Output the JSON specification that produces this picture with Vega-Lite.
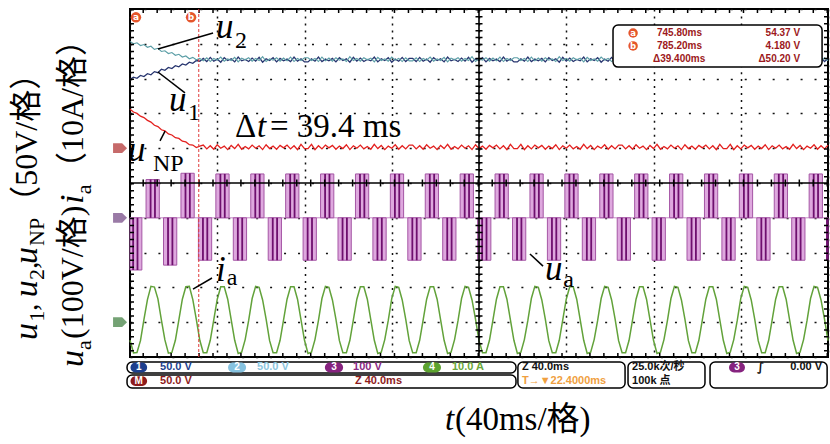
{
"$schema":"https://vega.github.io/schema/vega-lite/v6.json",
"width":698,"height":348,"autosize":"none",
"padding":{"left":130,"top":9,"right":2,"bottom":87},
"background":"white",
"config":{"view":{"stroke":"#000","strokeWidth":2},
 "axisX":{"grid":true,"tickCount":10,"gridDash":[2,4.96],"gridColor":"#111","gridWidth":1.5,"domain":false,"ticks":false,"labels":false,"titleOpacity":0},
 "axisY":{"grid":true,"tickCount":10,"gridDash":[2,11.96],"gridColor":"#111","gridWidth":1.5,"domain":false,"ticks":false,"labels":false,"titleOpacity":0}},
"datasets":{
"dc":[
{"t":0,"a":7.98,"b":9.07,"n":7.12,"i":0.48},{"t":2,"a":8.04,"b":9.0,"n":7.04,"i":0.12},{"t":4,"a":8.01,"b":9.03,"n":7.0,"i":0.13},{"t":6,"a":8.09,"b":8.95,"n":6.92,"i":0.47},{"t":8,"a":8.06,"b":8.98,"n":6.88,"i":1.08},{"t":10,"a":8.14,"b":8.9,"n":6.8,"i":1.65},{"t":12,"a":8.11,"b":8.93,"n":6.75,"i":2.03},{"t":14,"a":8.2,"b":8.84,"n":6.66,"i":2.01},{"t":16,"a":8.17,"b":8.87,"n":6.62,"i":1.67},{"t":18,"a":8.27,"b":8.78,"n":6.53,"i":1.06},{"t":20,"a":8.24,"b":8.8,"n":6.5,"i":0.49},{"t":22,"a":8.32,"b":8.72,"n":6.41,"i":0.11},{"t":24,"a":8.29,"b":8.75,"n":6.38,"i":0.13},{"t":26,"a":8.37,"b":8.67,"n":6.3,"i":0.48},{"t":28,"a":8.34,"b":8.7,"n":6.28,"i":1.07},{"t":30,"a":8.42,"b":8.62,"n":6.2,"i":1.66},{"t":32,"a":8.39,"b":8.65,"n":6.18,"i":2.02},{"t":34,"a":8.47,"b":8.57,"n":6.1,"i":2.03},{"t":36,"a":8.44,"b":8.61,"n":6.09,"i":1.65},{"t":38,"a":8.52,"b":8.54,"n":6.02,"i":1.08},{"t":40,"a":8.5,"b":8.58,"n":6.06,"i":0.48},
{"t":42,"a":8.58,"b":8.51,"n":6.09,"i":0.12},{"t":44,"a":8.49,"b":8.6,"n":5.98,"i":0.12},{"t":46,"a":8.61,"b":8.49,"n":6.07,"i":0.48},{"t":48,"a":8.5,"b":8.58,"n":5.97,"i":1.07},{"t":50,"a":8.56,"b":8.53,"n":6.1,"i":1.66},{"t":52,"a":8.47,"b":8.62,"n":6.0,"i":2.02},{"t":54,"a":8.6,"b":8.5,"n":6.06,"i":2.02},{"t":56,"a":8.52,"b":8.57,"n":5.96,"i":1.66},{"t":58,"a":8.57,"b":8.52,"n":6.08,"i":1.07},{"t":60,"a":8.48,"b":8.61,"n":5.99,"i":0.48},
{"t":62,"a":8.62,"b":8.48,"n":6.11,"i":0.1},{"t":64,"a":8.51,"b":8.59,"n":5.97,"i":0.14},{"t":66,"a":8.55,"b":8.54,"n":6.05,"i":0.5},{"t":68,"a":8.49,"b":8.6,"n":5.98,"i":1.05},{"t":70,"a":8.59,"b":8.5,"n":6.09,"i":1.68},{"t":72,"a":8.5,"b":8.58,"n":6.0,"i":2.03},{"t":74,"a":8.61,"b":8.52,"n":6.07,"i":2.0},{"t":76,"a":8.47,"b":8.63,"n":5.96,"i":1.64},{"t":78,"a":8.57,"b":8.49,"n":6.1,"i":1.09},{"t":80,"a":8.52,"b":8.57,"n":5.99,"i":0.47},
{"t":82,"a":8.6,"b":8.53,"n":6.06,"i":0.12},{"t":84,"a":8.48,"b":8.6,"n":5.97,"i":0.12},{"t":86,"a":8.58,"b":8.5,"n":6.08,"i":0.48},{"t":88,"a":8.51,"b":8.59,"n":6.01,"i":1.07},{"t":90,"a":8.56,"b":8.51,"n":6.09,"i":1.66},{"t":92,"a":8.49,"b":8.62,"n":5.98,"i":2.02},{"t":94,"a":8.62,"b":8.49,"n":6.07,"i":2.02},{"t":96,"a":8.5,"b":8.58,"n":5.96,"i":1.66},{"t":98,"a":8.57,"b":8.52,"n":6.11,"i":1.07},{"t":100,"a":8.48,"b":8.6,"n":5.99,"i":0.48},
{"t":102,"a":8.48,"b":8.6,"n":5.99,"i":0.1},{"t":104,"a":8.57,"b":8.52,"n":6.11,"i":0.14},{"t":106,"a":8.5,"b":8.58,"n":5.96,"i":0.5},{"t":108,"a":8.62,"b":8.49,"n":6.07,"i":1.05},{"t":110,"a":8.49,"b":8.62,"n":5.98,"i":1.68},{"t":112,"a":8.56,"b":8.51,"n":6.09,"i":2.03},{"t":114,"a":8.51,"b":8.59,"n":6.01,"i":2.0},{"t":116,"a":8.58,"b":8.5,"n":6.08,"i":1.64},{"t":118,"a":8.48,"b":8.6,"n":5.97,"i":1.09},{"t":120,"a":8.6,"b":8.53,"n":6.06,"i":0.47},
{"t":122,"a":8.52,"b":8.57,"n":5.99,"i":0.12},{"t":124,"a":8.57,"b":8.49,"n":6.1,"i":0.12},{"t":126,"a":8.47,"b":8.63,"n":5.96,"i":0.48},{"t":128,"a":8.61,"b":8.52,"n":6.07,"i":1.07},{"t":130,"a":8.5,"b":8.58,"n":6.0,"i":1.66},{"t":132,"a":8.59,"b":8.5,"n":6.09,"i":2.02},{"t":134,"a":8.49,"b":8.6,"n":5.98,"i":2.02},{"t":136,"a":8.55,"b":8.54,"n":6.05,"i":1.66},{"t":138,"a":8.51,"b":8.59,"n":5.97,"i":1.07},{"t":140,"a":8.62,"b":8.48,"n":6.11,"i":0.48},
{"t":142,"a":8.48,"b":8.61,"n":5.99,"i":0.1},{"t":144,"a":8.57,"b":8.52,"n":6.08,"i":0.14},{"t":146,"a":8.52,"b":8.57,"n":5.96,"i":0.5},{"t":148,"a":8.6,"b":8.5,"n":6.06,"i":1.05},{"t":150,"a":8.47,"b":8.62,"n":6.0,"i":1.68},{"t":152,"a":8.56,"b":8.53,"n":6.1,"i":2.03},{"t":154,"a":8.5,"b":8.58,"n":5.97,"i":2.0},{"t":156,"a":8.61,"b":8.49,"n":6.07,"i":1.64},{"t":158,"a":8.49,"b":8.6,"n":5.98,"i":1.09},{"t":160,"a":8.58,"b":8.51,"n":6.09,"i":0.47},
{"t":162,"a":8.58,"b":8.51,"n":6.09,"i":0.12},{"t":164,"a":8.49,"b":8.6,"n":5.98,"i":0.12},{"t":166,"a":8.61,"b":8.49,"n":6.07,"i":0.48},{"t":168,"a":8.5,"b":8.58,"n":5.97,"i":1.07},{"t":170,"a":8.56,"b":8.53,"n":6.1,"i":1.66},{"t":172,"a":8.47,"b":8.62,"n":6.0,"i":2.02},{"t":174,"a":8.6,"b":8.5,"n":6.06,"i":2.02},{"t":176,"a":8.52,"b":8.57,"n":5.96,"i":1.66},{"t":178,"a":8.57,"b":8.52,"n":6.08,"i":1.07},{"t":180,"a":8.48,"b":8.61,"n":5.99,"i":0.48},
{"t":182,"a":8.62,"b":8.48,"n":6.11,"i":0.1},{"t":184,"a":8.51,"b":8.59,"n":5.97,"i":0.14},{"t":186,"a":8.55,"b":8.54,"n":6.05,"i":0.5},{"t":188,"a":8.49,"b":8.6,"n":5.98,"i":1.05},{"t":190,"a":8.59,"b":8.5,"n":6.09,"i":1.68},{"t":192,"a":8.5,"b":8.58,"n":6.0,"i":2.03},{"t":194,"a":8.61,"b":8.52,"n":6.07,"i":2.0},{"t":196,"a":8.47,"b":8.63,"n":5.96,"i":1.64},{"t":198,"a":8.57,"b":8.49,"n":6.1,"i":1.09},{"t":200,"a":8.52,"b":8.57,"n":5.99,"i":0.47},
{"t":202,"a":8.6,"b":8.53,"n":6.06,"i":0.12},{"t":204,"a":8.48,"b":8.6,"n":5.97,"i":0.12},{"t":206,"a":8.58,"b":8.5,"n":6.08,"i":0.48},{"t":208,"a":8.51,"b":8.59,"n":6.01,"i":1.07},{"t":210,"a":8.56,"b":8.51,"n":6.09,"i":1.66},{"t":212,"a":8.49,"b":8.62,"n":5.98,"i":2.02},{"t":214,"a":8.62,"b":8.49,"n":6.07,"i":2.02},{"t":216,"a":8.5,"b":8.58,"n":5.96,"i":1.66},{"t":218,"a":8.57,"b":8.52,"n":6.11,"i":1.07},{"t":220,"a":8.48,"b":8.6,"n":5.99,"i":0.48},
{"t":222,"a":8.48,"b":8.6,"n":5.99,"i":0.1},{"t":224,"a":8.57,"b":8.52,"n":6.11,"i":0.14},{"t":226,"a":8.5,"b":8.58,"n":5.96,"i":0.5},{"t":228,"a":8.62,"b":8.49,"n":6.07,"i":1.05},{"t":230,"a":8.49,"b":8.62,"n":5.98,"i":1.68},{"t":232,"a":8.56,"b":8.51,"n":6.09,"i":2.03},{"t":234,"a":8.51,"b":8.59,"n":6.01,"i":2.0},{"t":236,"a":8.58,"b":8.5,"n":6.08,"i":1.64},{"t":238,"a":8.48,"b":8.6,"n":5.97,"i":1.09},{"t":240,"a":8.6,"b":8.53,"n":6.06,"i":0.47},
{"t":242,"a":8.52,"b":8.57,"n":5.99,"i":0.12},{"t":244,"a":8.57,"b":8.49,"n":6.1,"i":0.12},{"t":246,"a":8.47,"b":8.63,"n":5.96,"i":0.48},{"t":248,"a":8.61,"b":8.52,"n":6.07,"i":1.07},{"t":250,"a":8.5,"b":8.58,"n":6.0,"i":1.66},{"t":252,"a":8.59,"b":8.5,"n":6.09,"i":2.02},{"t":254,"a":8.49,"b":8.6,"n":5.98,"i":2.02},{"t":256,"a":8.55,"b":8.54,"n":6.05,"i":1.66},{"t":258,"a":8.51,"b":8.59,"n":5.97,"i":1.07},{"t":260,"a":8.62,"b":8.48,"n":6.11,"i":0.48},
{"t":262,"a":8.48,"b":8.61,"n":5.99,"i":0.1},{"t":264,"a":8.57,"b":8.52,"n":6.08,"i":0.14},{"t":266,"a":8.52,"b":8.57,"n":5.96,"i":0.5},{"t":268,"a":8.6,"b":8.5,"n":6.06,"i":1.05},{"t":270,"a":8.47,"b":8.62,"n":6.0,"i":1.68},{"t":272,"a":8.56,"b":8.53,"n":6.1,"i":2.03},{"t":274,"a":8.5,"b":8.58,"n":5.97,"i":2.0},{"t":276,"a":8.61,"b":8.49,"n":6.07,"i":1.64},{"t":278,"a":8.49,"b":8.6,"n":5.98,"i":1.09},{"t":280,"a":8.58,"b":8.51,"n":6.09,"i":0.47},
{"t":282,"a":8.58,"b":8.51,"n":6.09,"i":0.12},{"t":284,"a":8.49,"b":8.6,"n":5.98,"i":0.12},{"t":286,"a":8.61,"b":8.49,"n":6.07,"i":0.48},{"t":288,"a":8.5,"b":8.58,"n":5.97,"i":1.07},{"t":290,"a":8.56,"b":8.53,"n":6.1,"i":1.66},{"t":292,"a":8.47,"b":8.62,"n":6.0,"i":2.02},{"t":294,"a":8.6,"b":8.5,"n":6.06,"i":2.02},{"t":296,"a":8.52,"b":8.57,"n":5.96,"i":1.66},{"t":298,"a":8.57,"b":8.52,"n":6.08,"i":1.07},{"t":300,"a":8.48,"b":8.61,"n":5.99,"i":0.48},
{"t":302,"a":8.62,"b":8.48,"n":6.11,"i":0.1},{"t":304,"a":8.51,"b":8.59,"n":5.97,"i":0.14},{"t":306,"a":8.55,"b":8.54,"n":6.05,"i":0.5},{"t":308,"a":8.49,"b":8.6,"n":5.98,"i":1.05},{"t":310,"a":8.59,"b":8.5,"n":6.09,"i":1.68},{"t":312,"a":8.5,"b":8.58,"n":6.0,"i":2.03},{"t":314,"a":8.61,"b":8.52,"n":6.07,"i":2.0},{"t":316,"a":8.47,"b":8.63,"n":5.96,"i":1.64},{"t":318,"a":8.57,"b":8.49,"n":6.1,"i":1.09},{"t":320,"a":8.52,"b":8.57,"n":5.99,"i":0.47},
{"t":322,"a":8.6,"b":8.53,"n":6.06,"i":0.12},{"t":324,"a":8.48,"b":8.6,"n":5.97,"i":0.12},{"t":326,"a":8.58,"b":8.5,"n":6.08,"i":0.48},{"t":328,"a":8.51,"b":8.59,"n":6.01,"i":1.07},{"t":330,"a":8.56,"b":8.51,"n":6.09,"i":1.66},{"t":332,"a":8.49,"b":8.62,"n":5.98,"i":2.02},{"t":334,"a":8.62,"b":8.49,"n":6.07,"i":2.02},{"t":336,"a":8.5,"b":8.58,"n":5.96,"i":1.66},{"t":338,"a":8.57,"b":8.52,"n":6.11,"i":1.07},{"t":340,"a":8.48,"b":8.6,"n":5.99,"i":0.48},
{"t":342,"a":8.48,"b":8.6,"n":5.99,"i":0.1},{"t":344,"a":8.57,"b":8.52,"n":6.11,"i":0.14},{"t":346,"a":8.5,"b":8.58,"n":5.96,"i":0.5},{"t":348,"a":8.62,"b":8.49,"n":6.07,"i":1.05},{"t":350,"a":8.49,"b":8.62,"n":5.98,"i":1.68},{"t":352,"a":8.56,"b":8.51,"n":6.09,"i":2.03},{"t":354,"a":8.51,"b":8.59,"n":6.01,"i":2.0},{"t":356,"a":8.58,"b":8.5,"n":6.08,"i":1.64},{"t":358,"a":8.48,"b":8.6,"n":5.97,"i":1.09},{"t":360,"a":8.6,"b":8.53,"n":6.06,"i":0.47},
{"t":362,"a":8.52,"b":8.57,"n":5.99,"i":0.12},{"t":364,"a":8.57,"b":8.49,"n":6.1,"i":0.12},{"t":366,"a":8.47,"b":8.63,"n":5.96,"i":0.48},{"t":368,"a":8.61,"b":8.52,"n":6.07,"i":1.07},{"t":370,"a":8.5,"b":8.58,"n":6.0,"i":1.66},{"t":372,"a":8.59,"b":8.5,"n":6.09,"i":2.02},{"t":374,"a":8.49,"b":8.6,"n":5.98,"i":2.02},{"t":376,"a":8.55,"b":8.54,"n":6.05,"i":1.66},{"t":378,"a":8.51,"b":8.59,"n":5.97,"i":1.07},{"t":380,"a":8.62,"b":8.48,"n":6.11,"i":0.48},
{"t":382,"a":8.48,"b":8.61,"n":5.99,"i":0.1},{"t":384,"a":8.57,"b":8.52,"n":6.08,"i":0.14},{"t":386,"a":8.52,"b":8.57,"n":5.96,"i":0.5},{"t":388,"a":8.6,"b":8.5,"n":6.06,"i":1.05},{"t":390,"a":8.47,"b":8.62,"n":6.0,"i":1.68},{"t":392,"a":8.56,"b":8.53,"n":6.1,"i":2.03},{"t":394,"a":8.5,"b":8.58,"n":5.97,"i":2.0},{"t":396,"a":8.61,"b":8.49,"n":6.07,"i":1.64},{"t":398,"a":8.49,"b":8.6,"n":5.98,"i":1.09},{"t":400,"a":8.58,"b":8.51,"n":6.09,"i":0.47}
],
"pw":[
{"t0":0,"t1":6.8,"v":2.5,"d1":1.8,"d2":4.3},{"t0":9.2,"t1":16.8,"v":5.1,"d1":11.8,"d2":14.3},
{"t0":19.2,"t1":26.8,"v":2.64,"d1":21.8,"d2":24.3},{"t0":29.2,"t1":36.8,"v":5.28,"d1":31.8,"d2":34.3},
{"t0":39.2,"t1":46.8,"v":2.78,"d1":41.8,"d2":44.3},{"t0":49.2,"t1":56.8,"v":5.26,"d1":51.8,"d2":54.3},
{"t0":59.2,"t1":66.8,"v":2.78,"d1":61.8,"d2":64.3},{"t0":69.2,"t1":76.8,"v":5.26,"d1":71.8,"d2":74.3},
{"t0":79.2,"t1":86.8,"v":2.78,"d1":81.8,"d2":84.3},{"t0":89.2,"t1":96.8,"v":5.26,"d1":91.8,"d2":94.3},
{"t0":99.2,"t1":106.8,"v":2.78,"d1":101.8,"d2":104.3},{"t0":109.2,"t1":116.8,"v":5.26,"d1":111.8,"d2":114.3},
{"t0":119.2,"t1":126.8,"v":2.78,"d1":121.8,"d2":124.3},{"t0":129.2,"t1":136.8,"v":5.26,"d1":131.8,"d2":134.3},
{"t0":139.2,"t1":146.8,"v":2.78,"d1":141.8,"d2":144.3},{"t0":149.2,"t1":156.8,"v":5.26,"d1":151.8,"d2":154.3},
{"t0":159.2,"t1":166.8,"v":2.78,"d1":161.8,"d2":164.3},{"t0":169.2,"t1":176.8,"v":5.26,"d1":171.8,"d2":174.3},
{"t0":179.2,"t1":186.8,"v":2.78,"d1":181.8,"d2":184.3},{"t0":189.2,"t1":196.8,"v":5.26,"d1":191.8,"d2":194.3},
{"t0":199.2,"t1":206.8,"v":2.78,"d1":201.8,"d2":204.3},{"t0":209.2,"t1":216.8,"v":5.26,"d1":211.8,"d2":214.3},
{"t0":219.2,"t1":226.8,"v":2.78,"d1":221.8,"d2":224.3},{"t0":229.2,"t1":236.8,"v":5.26,"d1":231.8,"d2":234.3},
{"t0":239.2,"t1":246.8,"v":2.78,"d1":241.8,"d2":244.3},{"t0":249.2,"t1":256.8,"v":5.26,"d1":251.8,"d2":254.3},
{"t0":259.2,"t1":266.8,"v":2.78,"d1":261.8,"d2":264.3},{"t0":269.2,"t1":276.8,"v":5.26,"d1":271.8,"d2":274.3},
{"t0":279.2,"t1":286.8,"v":2.78,"d1":281.8,"d2":284.3},{"t0":289.2,"t1":296.8,"v":5.26,"d1":291.8,"d2":294.3},
{"t0":299.2,"t1":306.8,"v":2.78,"d1":301.8,"d2":304.3},{"t0":309.2,"t1":316.8,"v":5.26,"d1":311.8,"d2":314.3},
{"t0":319.2,"t1":326.8,"v":2.78,"d1":321.8,"d2":324.3},{"t0":329.2,"t1":336.8,"v":5.26,"d1":331.8,"d2":334.3},
{"t0":339.2,"t1":346.8,"v":2.78,"d1":341.8,"d2":344.3},{"t0":349.2,"t1":356.8,"v":5.26,"d1":351.8,"d2":354.3},
{"t0":359.2,"t1":366.8,"v":2.78,"d1":361.8,"d2":364.3},{"t0":369.2,"t1":376.8,"v":5.26,"d1":371.8,"d2":374.3},
{"t0":379.2,"t1":386.8,"v":2.78,"d1":381.8,"d2":384.3},{"t0":389.2,"t1":396.8,"v":5.26,"d1":391.8,"d2":394.3},
{"t0":399.2,"t1":400,"v":2.78,"d1":399.6,"d2":399.6}
]},
"data":{"values":[{}]},
"layer":[
{"data":{"name":"dc"},"mark":{"type":"line","color":"#27356f","strokeWidth":1.3},"encoding":{"x":{"field":"t","type":"quantitative","scale":{"domain":[0,400],"nice":false,"zero":false},"axis":{"title":null}},"y":{"field":"a","type":"quantitative","scale":{"domain":[0,10],"nice":false,"zero":false},"axis":{"title":null}}}},
{"data":{"name":"dc"},"mark":{"type":"line","color":"#5b9ea6","strokeWidth":1.1},"encoding":{"x":{"field":"t","type":"quantitative","axis":{"title":null}},"y":{"field":"b","type":"quantitative","axis":{"title":null}}}},
{"data":{"name":"dc"},"mark":{"type":"line","color":"#e3201e","strokeWidth":1.3},"encoding":{"x":{"field":"t","type":"quantitative","axis":{"title":null}},"y":{"field":"n","type":"quantitative","axis":{"title":null}}}},
{"data":{"name":"dc"},"mark":{"type":"line","color":"#62a23a","strokeWidth":1.5},"encoding":{"x":{"field":"t","type":"quantitative","axis":{"title":null}},"y":{"field":"i","type":"quantitative","axis":{"title":null}}}},
{"mark":{"type":"rule","color":"#c58ac5","strokeWidth":1},"encoding":{"y":{"datum":4}}},
{"data":{"name":"pw"},"mark":{"type":"rect","fill":"#dea8de","stroke":"#a556a5","strokeWidth":1},"encoding":{"x":{"field":"t0","type":"quantitative","axis":{"title":null}},"x2":{"field":"t1"},"y":{"field":"v","type":"quantitative","axis":{"title":null}},"y2":{"datum":4}}},
{"data":{"name":"pw"},"mark":{"type":"rule","color":"#6e0f6e","strokeWidth":1.8},"encoding":{"x":{"field":"d1","type":"quantitative","axis":{"title":null}},"y":{"field":"v","type":"quantitative","axis":{"title":null}},"y2":{"datum":4}}},
{"data":{"name":"pw"},"mark":{"type":"rule","color":"#6e0f6e","strokeWidth":1.8},"encoding":{"x":{"field":"d2","type":"quantitative","axis":{"title":null}},"y":{"field":"v","type":"quantitative","axis":{"title":null}},"y2":{"datum":4}}},
{"mark":{"type":"rule","color":"#000","strokeWidth":1.6},"encoding":{"y":{"datum":5}}},
{"mark":{"type":"rule","color":"#000","strokeWidth":7,"strokeDash":[1.5,12.46]},"encoding":{"y":{"datum":5}}},
{"mark":{"type":"rule","color":"#000","strokeWidth":1.6},"encoding":{"x":{"datum":200}}},
{"mark":{"type":"rule","color":"#000","strokeWidth":7,"strokeDash":[1.5,5.46]},"encoding":{"x":{"datum":200}}},
{"mark":{"type":"rule","color":"#000","strokeWidth":8,"strokeDash":[1.5,12.46],"clip":true},"encoding":{"y":{"datum":0}}},
{"mark":{"type":"rule","color":"#000","strokeWidth":8,"strokeDash":[1.5,12.46],"clip":true},"encoding":{"y":{"datum":10}}},
{"mark":{"type":"rule","color":"#000","strokeWidth":8,"strokeDash":[1.5,5.46],"clip":true},"encoding":{"x":{"datum":0}}},
{"mark":{"type":"rule","color":"#000","strokeWidth":8,"strokeDash":[1.5,5.46],"clip":true},"encoding":{"x":{"datum":400}}},
{"mark":{"type":"rule","color":"#e03a3a","strokeWidth":1,"strokeDash":[3,2]},"encoding":{"x":{"datum":39.4}}},
{"mark":{"type":"point","shape":"circle","filled":true,"color":"#e5552b","size":110,"opacity":1},"encoding":{"x":{"datum":3.4},"y":{"datum":9.76}}},
{"mark":{"type":"point","shape":"circle","filled":true,"color":"#e5552b","size":110,"opacity":1},"encoding":{"x":{"datum":35},"y":{"datum":9.76}}},
{"mark":{"type":"text","text":"a","font":"DejaVu Sans","fontSize":9,"fontWeight":"bold","color":"#fff","align":"center","baseline":"middle"},"encoding":{"x":{"datum":3.4},"y":{"datum":9.77}}},
{"mark":{"type":"text","text":"b","font":"DejaVu Sans","fontSize":9,"fontWeight":"bold","color":"#fff","align":"center","baseline":"middle"},"encoding":{"x":{"datum":35},"y":{"datum":9.77}}},
{"mark":{"type":"rect","fill":"#fff","stroke":"#000","strokeWidth":1.5,"cornerRadius":5},"encoding":{"x":{"datum":276.8},"x2":{"datum":396.6},"y":{"datum":9.54},"y2":{"datum":8.33}}},
{"mark":{"type":"point","shape":"circle","filled":true,"color":"#e5552b","size":90,"opacity":1},"encoding":{"x":{"datum":288.3},"y":{"datum":9.31}}},
{"mark":{"type":"point","shape":"circle","filled":true,"color":"#e5552b","size":90,"opacity":1},"encoding":{"x":{"datum":288.3},"y":{"datum":8.94}}},
{"mark":{"type":"text","text":"a","font":"DejaVu Sans","fontSize":8.5,"fontWeight":"bold","color":"#fff","align":"center","baseline":"middle"},"encoding":{"x":{"datum":288.3},"y":{"datum":9.32}}},
{"mark":{"type":"text","text":"b","font":"DejaVu Sans","fontSize":8.5,"fontWeight":"bold","color":"#fff","align":"center","baseline":"middle"},"encoding":{"x":{"datum":288.3},"y":{"datum":8.95}}},
{"mark":{"type":"text","text":"745.80ms","font":"Liberation Sans","fontSize":10,"fontWeight":"bold","color":"#9c1820","align":"left","baseline":"middle"},"encoding":{"x":{"datum":302},"y":{"datum":9.31}}},
{"mark":{"type":"text","text":"54.37 V","font":"Liberation Sans","fontSize":10,"fontWeight":"bold","color":"#9c1820","align":"right","baseline":"middle"},"encoding":{"x":{"datum":384},"y":{"datum":9.31}}},
{"mark":{"type":"text","text":"785.20ms","font":"Liberation Sans","fontSize":10,"fontWeight":"bold","color":"#9c1820","align":"left","baseline":"middle"},"encoding":{"x":{"datum":302},"y":{"datum":8.94}}},
{"mark":{"type":"text","text":"4.180 V","font":"Liberation Sans","fontSize":10,"fontWeight":"bold","color":"#9c1820","align":"right","baseline":"middle"},"encoding":{"x":{"datum":384},"y":{"datum":8.94}}},
{"mark":{"type":"text","text":"Δ39.400ms","font":"Liberation Sans","fontSize":10,"fontWeight":"bold","color":"#9c1820","align":"left","baseline":"middle"},"encoding":{"x":{"datum":299.7},"y":{"datum":8.56}}},
{"mark":{"type":"text","text":"Δ50.20 V","font":"Liberation Sans","fontSize":10,"fontWeight":"bold","color":"#9c1820","align":"right","baseline":"middle"},"encoding":{"x":{"datum":384},"y":{"datum":8.56}}},
{"mark":{"type":"rule","color":"#000","strokeWidth":1.5},"encoding":{"x":{"datum":47.6},"y":{"datum":9.31},"x2":{"datum":16},"y2":{"datum":8.85}}},
{"mark":{"type":"rule","color":"#000","strokeWidth":1.5},"encoding":{"x":{"datum":31.5},"y":{"datum":7.59},"x2":{"datum":16},"y2":{"datum":8.19}}},
{"mark":{"type":"rule","color":"#000","strokeWidth":1.5},"encoding":{"x":{"datum":20.1},"y":{"datum":6.49},"x2":{"datum":17.2},"y2":{"datum":6.21}}},
{"mark":{"type":"rule","color":"#000","strokeWidth":1.5},"encoding":{"x":{"datum":47},"y":{"datum":2.27},"x2":{"datum":36.1},"y2":{"datum":1.95}}},
{"mark":{"type":"rule","color":"#000","strokeWidth":1.5},"encoding":{"x":{"datum":229.2},"y":{"datum":2.96},"x2":{"datum":236.7},"y2":{"datum":2.61}}},
{"mark":{"type":"text","text":"u","font":"Liberation Serif","fontStyle":"italic","fontSize":35,"color":"#000","align":"left","baseline":"alphabetic"},"encoding":{"x":{"datum":49.3},"y":{"datum":9.17}}},
{"mark":{"type":"text","text":"2","font":"Liberation Serif","fontSize":24,"color":"#000","align":"left","baseline":"alphabetic"},"encoding":{"x":{"datum":60.2},"y":{"datum":8.88}}},
{"mark":{"type":"text","text":"u","font":"Liberation Serif","fontStyle":"italic","fontSize":35,"color":"#000","align":"left","baseline":"alphabetic"},"encoding":{"x":{"datum":22.3},"y":{"datum":7.07}}},
{"mark":{"type":"text","text":"1","font":"Liberation Serif","fontSize":24,"color":"#000","align":"left","baseline":"alphabetic"},"encoding":{"x":{"datum":33.2},"y":{"datum":6.81}}},
{"mark":{"type":"text","text":"Δ","font":"Liberation Serif","fontSize":33,"color":"#000","align":"left","baseline":"alphabetic"},"encoding":{"x":{"datum":60.2},"y":{"datum":6.32}}},
{"mark":{"type":"text","text":"t","font":"Liberation Serif","fontStyle":"italic","fontSize":33,"color":"#000","align":"left","baseline":"alphabetic"},"encoding":{"x":{"datum":72.8},"y":{"datum":6.32}}},
{"mark":{"type":"text","text":"= 39.4 ms","font":"Liberation Serif","fontSize":33,"color":"#000","align":"left","baseline":"alphabetic"},"encoding":{"x":{"datum":80.2},"y":{"datum":6.32}}},
{"mark":{"type":"text","text":"u","font":"Liberation Serif","fontStyle":"italic","fontSize":35,"color":"#000","align":"left","baseline":"alphabetic"},"encoding":{"x":{"datum":-1.1},"y":{"datum":5.63}}},
{"mark":{"type":"text","text":"NP","font":"Liberation Serif","fontSize":24,"color":"#000","align":"left","baseline":"alphabetic"},"encoding":{"x":{"datum":13.2},"y":{"datum":5.34}}},
{"mark":{"type":"text","text":"i","font":"Liberation Serif","fontStyle":"italic","fontSize":35,"color":"#000","align":"left","baseline":"alphabetic"},"encoding":{"x":{"datum":49.3},"y":{"datum":2.18}}},
{"mark":{"type":"text","text":"a","font":"Liberation Serif","fontSize":24,"color":"#000","align":"left","baseline":"alphabetic"},"encoding":{"x":{"datum":55.5},"y":{"datum":2.08}}},
{"mark":{"type":"text","text":"u","font":"Liberation Serif","fontStyle":"italic","fontSize":35,"color":"#000","align":"left","baseline":"alphabetic"},"encoding":{"x":{"datum":237.8},"y":{"datum":2.21}}},
{"mark":{"type":"text","text":"a","font":"Liberation Serif","fontSize":24,"color":"#000","align":"left","baseline":"alphabetic"},"encoding":{"x":{"datum":248.3},"y":{"datum":2.01}}},
{"mark":{"type":"point","shape":"M-1,-0.7L0.3,-0.7L1,0L0.3,0.7L-1,0.7Z","filled":true,"color":"#c66a6a","size":196,"opacity":1},"encoding":{"x":{"datum":-5.7},"y":{"datum":6}}},
{"mark":{"type":"point","shape":"M-1,-0.7L0.3,-0.7L1,0L0.3,0.7L-1,0.7Z","filled":true,"color":"#9a7aa6","size":196,"opacity":1},"encoding":{"x":{"datum":-5.7},"y":{"datum":4}}},
{"mark":{"type":"point","shape":"M-1,-0.7L0.3,-0.7L1,0L0.3,0.7L-1,0.7Z","filled":true,"color":"#74a274","size":196,"opacity":1},"encoding":{"x":{"datum":-5.7},"y":{"datum":1}}},
{"mark":{"type":"rect","fill":"#fff","stroke":"#000","strokeWidth":1.5,"cornerRadius":5},"encoding":{"x":{"datum":-1.7},"x2":{"datum":221.2},"y":{"datum":-0.144},"y2":{"datum":-0.46}}},
{"mark":{"type":"rect","fill":"#fff","stroke":"#000","strokeWidth":1.5,"cornerRadius":5},"encoding":{"x":{"datum":-1.7},"x2":{"datum":221.2},"y":{"datum":-0.517},"y2":{"datum":-0.89}}},
{"mark":{"type":"rect","fill":"#fff","stroke":"#000","strokeWidth":1.5,"cornerRadius":5},"encoding":{"x":{"datum":222.3},"x2":{"datum":283.7},"y":{"datum":-0.144},"y2":{"datum":-0.89}}},
{"mark":{"type":"rect","fill":"#fff","stroke":"#000","strokeWidth":1.5,"cornerRadius":5},"encoding":{"x":{"datum":285.4},"x2":{"datum":329.5},"y":{"datum":-0.144},"y2":{"datum":-0.89}}},
{"mark":{"type":"rect","fill":"#fff","stroke":"#000","strokeWidth":1.5,"cornerRadius":5},"encoding":{"x":{"datum":332.4},"x2":{"datum":399.5},"y":{"datum":-0.144},"y2":{"datum":-0.89}}},
{"mark":{"type":"rect","color":"#1d3f8e","cornerRadius":5},"encoding":{"x":{"datum":0.3},"x2":{"datum":9.8},"y":{"datum":-0.16},"y2":{"datum":-0.445}}},
{"mark":{"type":"rect","color":"#86c2df","cornerRadius":5},"encoding":{"x":{"datum":56.2},"x2":{"datum":66.5},"y":{"datum":-0.16},"y2":{"datum":-0.445}}},
{"mark":{"type":"rect","color":"#86237f","cornerRadius":5},"encoding":{"x":{"datum":111.7},"x2":{"datum":122.1},"y":{"datum":-0.16},"y2":{"datum":-0.445}}},
{"mark":{"type":"rect","color":"#5da32f","cornerRadius":5},"encoding":{"x":{"datum":167.9},"x2":{"datum":178.2},"y":{"datum":-0.16},"y2":{"datum":-0.445}}},
{"mark":{"type":"rect","color":"#8e1b1b","cornerRadius":5},"encoding":{"x":{"datum":0.3},"x2":{"datum":9.8},"y":{"datum":-0.55},"y2":{"datum":-0.83}}},
{"mark":{"type":"rect","color":"#86237f","cornerRadius":5},"encoding":{"x":{"datum":343.3},"x2":{"datum":352.4},"y":{"datum":-0.16},"y2":{"datum":-0.445}}},
{"mark":{"type":"text","text":"1","font":"Liberation Sans","fontSize":10,"fontWeight":"bold","color":"#fff","align":"center","baseline":"middle"},"encoding":{"x":{"datum":5},"y":{"datum":-0.3}}},
{"mark":{"type":"text","text":"2","font":"Liberation Sans","fontSize":10,"fontWeight":"bold","color":"#fff","align":"center","baseline":"middle"},"encoding":{"x":{"datum":61.3},"y":{"datum":-0.3}}},
{"mark":{"type":"text","text":"3","font":"Liberation Sans","fontSize":10,"fontWeight":"bold","color":"#fff","align":"center","baseline":"middle"},"encoding":{"x":{"datum":116.9},"y":{"datum":-0.3}}},
{"mark":{"type":"text","text":"4","font":"Liberation Sans","fontSize":10,"fontWeight":"bold","color":"#fff","align":"center","baseline":"middle"},"encoding":{"x":{"datum":173.1},"y":{"datum":-0.3}}},
{"mark":{"type":"text","text":"M","font":"Liberation Sans","fontSize":10,"fontWeight":"bold","color":"#fff","align":"center","baseline":"middle"},"encoding":{"x":{"datum":5},"y":{"datum":-0.69}}},
{"mark":{"type":"text","text":"3","font":"Liberation Sans","fontSize":10,"fontWeight":"bold","color":"#fff","align":"center","baseline":"middle"},"encoding":{"x":{"datum":347.9},"y":{"datum":-0.3}}},
{"mark":{"type":"text","text":"50.0 V","font":"Liberation Sans","fontSize":11,"fontWeight":"bold","color":"#1d3f8e","align":"left","baseline":"middle"},"encoding":{"x":{"datum":17.2},"y":{"datum":-0.3}}},
{"mark":{"type":"text","text":"50.0 V","font":"Liberation Sans","fontSize":11,"fontWeight":"bold","color":"#8cc6e0","align":"left","baseline":"middle"},"encoding":{"x":{"datum":72.8},"y":{"datum":-0.3}}},
{"mark":{"type":"text","text":"100 V","font":"Liberation Sans","fontSize":11,"fontWeight":"bold","color":"#8a2a84","align":"left","baseline":"middle"},"encoding":{"x":{"datum":127.8},"y":{"datum":-0.3}}},
{"mark":{"type":"text","text":"10.0 A","font":"Liberation Sans","fontSize":11,"fontWeight":"bold","color":"#6aa83a","align":"left","baseline":"middle"},"encoding":{"x":{"datum":184.5},"y":{"datum":-0.3}}},
{"mark":{"type":"text","text":"50.0 V","font":"Liberation Sans","fontSize":11,"fontWeight":"bold","color":"#8e1b1b","align":"left","baseline":"middle"},"encoding":{"x":{"datum":17.2},"y":{"datum":-0.69}}},
{"mark":{"type":"text","text":"Z 40.0ms","font":"Liberation Sans","fontSize":11,"fontWeight":"bold","color":"#8e1b1b","align":"left","baseline":"middle"},"encoding":{"x":{"datum":128.9},"y":{"datum":-0.69}}},
{"mark":{"type":"text","text":"Z 40.0ms","font":"Liberation Sans","fontSize":11,"fontWeight":"bold","color":"#111","align":"left","baseline":"middle"},"encoding":{"x":{"datum":224.6},"y":{"datum":-0.3}}},
{"mark":{"type":"text","text":"T→▼22.4000ms","font":"Liberation Sans, DejaVu Sans","fontSize":11,"fontWeight":"bold","color":"#f0a040","align":"left","baseline":"middle"},"encoding":{"x":{"datum":224.6},"y":{"datum":-0.69}}},
{"mark":{"type":"text","text":"25.0k次/秒","font":"Liberation Sans, Noto Sans CJK SC","fontSize":11,"fontWeight":"bold","color":"#111","align":"left","baseline":"middle"},"encoding":{"x":{"datum":287.7},"y":{"datum":-0.3}}},
{"mark":{"type":"text","text":"100k 点","font":"Liberation Sans, Noto Sans CJK SC","fontSize":11,"fontWeight":"bold","color":"#111","align":"left","baseline":"middle"},"encoding":{"x":{"datum":287.7},"y":{"datum":-0.69}}},
{"mark":{"type":"text","text":"∫","font":"DejaVu Sans","fontSize":12,"fontWeight":"bold","color":"#111","align":"left","baseline":"middle"},"encoding":{"x":{"datum":359.3},"y":{"datum":-0.3}}},
{"mark":{"type":"text","text":"0.00 V","font":"Liberation Sans","fontSize":11,"fontWeight":"bold","color":"#111","align":"right","baseline":"middle"},"encoding":{"x":{"datum":396.6},"y":{"datum":-0.3}}},
{"mark":{"type":"text","text":"t","font":"Liberation Serif","fontStyle":"italic","fontSize":33,"color":"#000","align":"left","baseline":"alphabetic"},"encoding":{"x":{"datum":180.5},"y":{"datum":-2.1}}},
{"mark":{"type":"text","text":"(40ms/格)","font":"Liberation Serif, Noto Sans CJK SC","fontSize":33,"color":"#000","align":"left","baseline":"alphabetic"},"encoding":{"x":{"datum":186.2},"y":{"datum":-2.1}}},
{"mark":{"type":"text","text":"u","angle":270,"font":"Liberation Serif","fontStyle":"italic","fontSize":34,"color":"#000","align":"left","baseline":"alphabetic"},"encoding":{"x":{"datum":-53.3},"y":{"datum":0.49}}},
{"mark":{"type":"text","text":"1","angle":270,"font":"Liberation Serif","fontSize":22,"color":"#000","align":"left","baseline":"alphabetic"},"encoding":{"x":{"datum":-49.3},"y":{"datum":1.01}}},
{"mark":{"type":"text","text":",","angle":270,"font":"Liberation Serif","fontSize":30,"color":"#000","align":"left","baseline":"alphabetic"},"encoding":{"x":{"datum":-53.3},"y":{"datum":1.32}}},
{"mark":{"type":"text","text":"u","angle":270,"font":"Liberation Serif","fontStyle":"italic","fontSize":34,"color":"#000","align":"left","baseline":"alphabetic"},"encoding":{"x":{"datum":-53.3},"y":{"datum":1.72}}},
{"mark":{"type":"text","text":"2","angle":270,"font":"Liberation Serif","fontSize":22,"color":"#000","align":"left","baseline":"alphabetic"},"encoding":{"x":{"datum":-49.3},"y":{"datum":2.21}}},
{"mark":{"type":"text","text":",","angle":270,"font":"Liberation Serif","fontSize":30,"color":"#000","align":"left","baseline":"alphabetic"},"encoding":{"x":{"datum":-53.3},"y":{"datum":2.53}}},
{"mark":{"type":"text","text":"u","angle":270,"font":"Liberation Serif","fontStyle":"italic","fontSize":34,"color":"#000","align":"left","baseline":"alphabetic"},"encoding":{"x":{"datum":-53.3},"y":{"datum":2.67}}},
{"mark":{"type":"text","text":"NP","angle":270,"font":"Liberation Serif","fontSize":22,"color":"#000","align":"left","baseline":"alphabetic"},"encoding":{"x":{"datum":-49.3},"y":{"datum":3.19}}},
{"mark":{"type":"text","text":"（50V/格）","angle":270,"font":"Liberation Serif, Noto Sans CJK SC","fontSize":32,"color":"#000","align":"left","baseline":"alphabetic"},"encoding":{"x":{"datum":-53.3},"y":{"datum":4.0}}},
{"mark":{"type":"text","text":"u","angle":270,"font":"Liberation Serif","fontStyle":"italic","fontSize":34,"color":"#000","align":"left","baseline":"alphabetic"},"encoding":{"x":{"datum":-26.9},"y":{"datum":-0.29}}},
{"mark":{"type":"text","text":"a","angle":270,"font":"Liberation Serif","fontSize":22,"color":"#000","align":"left","baseline":"alphabetic"},"encoding":{"x":{"datum":-22.3},"y":{"datum":0.2}}},
{"mark":{"type":"text","text":"(100V/格)","angle":270,"font":"Liberation Serif, Noto Sans CJK SC","fontSize":32,"color":"#000","align":"left","baseline":"alphabetic"},"encoding":{"x":{"datum":-26.9},"y":{"datum":0.52}}},
{"mark":{"type":"text","text":"i","angle":270,"font":"Liberation Serif","fontStyle":"italic","fontSize":34,"color":"#000","align":"left","baseline":"alphabetic"},"encoding":{"x":{"datum":-26.9},"y":{"datum":4.4}}},
{"mark":{"type":"text","text":"a","angle":270,"font":"Liberation Serif","fontSize":22,"color":"#000","align":"left","baseline":"alphabetic"},"encoding":{"x":{"datum":-22.3},"y":{"datum":4.68}}},
{"mark":{"type":"text","text":"（10A/格）","angle":270,"font":"Liberation Serif, Noto Sans CJK SC","fontSize":32,"color":"#000","align":"left","baseline":"alphabetic"},"encoding":{"x":{"datum":-26.9},"y":{"datum":4.97}}}
]
}
